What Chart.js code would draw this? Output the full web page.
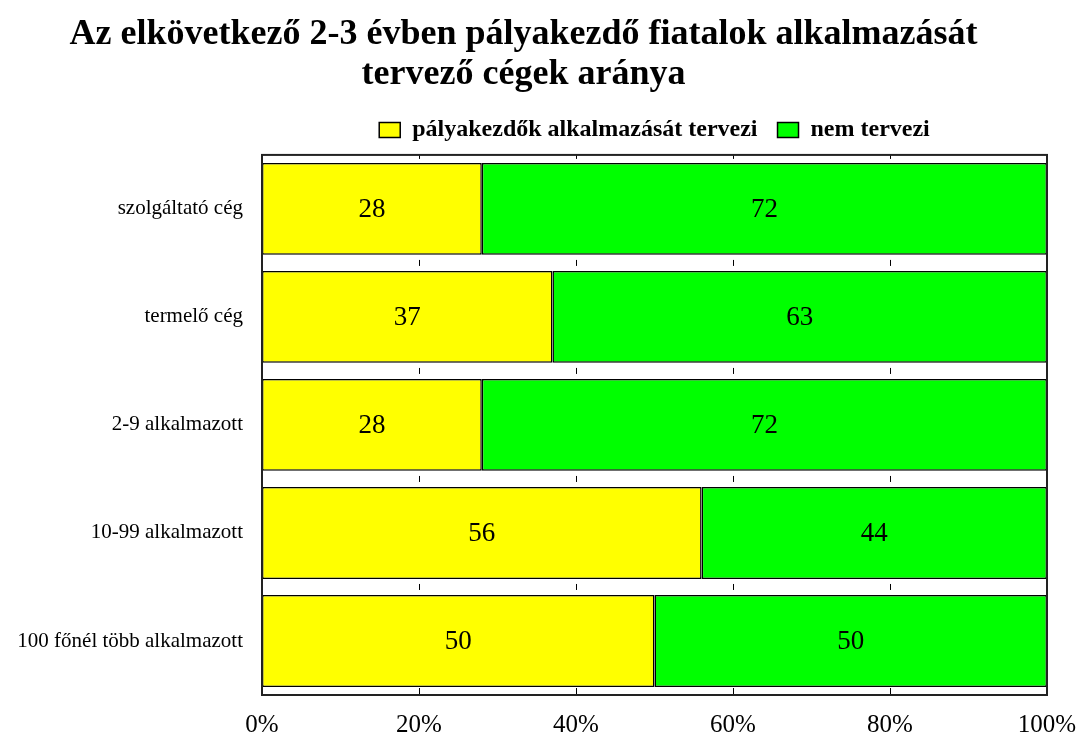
<!DOCTYPE html>
<html>
<head>
<meta charset="utf-8">
<script src="https://cdn.jsdelivr.net/npm/chart.js@4/dist/chart.umd.min.js"></script>
<style>
  html, body { margin: 0; padding: 0; background: #fff; }
  #wrap { width: 1084px; height: 738px; }
</style>
</head>
<body>
<div id="wrap"><canvas id="chart"></canvas></div>
<script>
const categories = [
  "szolgáltató cég",
  "termelő cég",
  "2-9 alkalmazott",
  "10-99 alkalmazott",
  "100 főnél több alkalmazott",
];
const plansHiring = [28, 37, 28, 56, 50];
const notPlanning = [72, 63, 72, 44, 50];
const seriesNames = ["pályakezdők alkalmazását tervezi", "nem tervezi"];
const xTicks = [0, 20, 40, 60, 80, 100];

const serif = "'Liberation Serif', 'Times New Roman', serif";

// value labels inside each bar segment
const valueLabels = {
  id: "valueLabels",
  afterDatasetsDraw(chart) {
    const ctx = chart.ctx;
    ctx.save();
    ctx.font = "27px " + serif;
    ctx.fillStyle = "#000";
    ctx.textAlign = "center";
    ctx.textBaseline = "middle";
    chart.data.datasets.forEach((ds, i) => {
      chart.getDatasetMeta(i).data.forEach((bar, j) => {
        const cx = (bar.x + bar.base) / 2;
        ctx.fillText(ds.data[j], cx, bar.y + 1);
      });
    });
    ctx.restore();
  },
};

// short tick marks in the gaps between bars + box around the plot
const plotFrame = {
  id: "plotFrame",
  afterDatasetsDraw(chart) {
    const a = chart.chartArea;
    const ctx = chart.ctx;
    const x = chart.scales.x;
    const step = (a.bottom - a.top) / categories.length;
    ctx.save();
    ctx.strokeStyle = "#000";
    ctx.lineWidth = 1;
    xTicks.slice(1, -1).forEach((v) => {
      const px = Math.round(x.getPixelForValue(v)) + 0.5;
      for (let k = 0; k <= categories.length; k++) {
        const gy = a.top + k * step;
        let y0 = gy - 3, y1 = gy + 3;
        if (k === 0) { y0 = a.top; y1 = a.top + 4; }
        if (k === categories.length) { y0 = a.bottom - 7; y1 = a.bottom; }
        ctx.beginPath();
        ctx.moveTo(px, y0);
        ctx.lineTo(px, y1);
        ctx.stroke();
      }
    });
    ctx.strokeStyle = "#222";
    ctx.lineWidth = 2;
    ctx.strokeRect(a.left, a.top, a.right - a.left, a.bottom - a.top);
    ctx.restore();
  },
};

// legend: fixed height, centered over the plot area
const legendOverPlot = {
  id: "legendOverPlot",
  beforeLayout(chart) {
    const lg = chart.legend;
    if (lg && !lg._fixed) {
      const fit = lg.fit.bind(lg);
      lg.fit = function () {
        fit();
        this.height = 57;
      };
      lg._fixed = true;
    }
  },
  afterLayout(chart) {
    const lg = chart.legend;
    lg.left = chart.chartArea.left;
    lg.right = chart.chartArea.right;
  },
};

new Chart(document.getElementById("chart"), {
  type: "bar",
  data: {
    labels: categories,
    datasets: [
      {
        label: seriesNames[0],
        data: plansHiring,
        backgroundColor: "#ffff00",
        borderColor: "#000",
        borderWidth: 1.5,
        borderSkipped: false,
        barPercentage: 0.85,
        categoryPercentage: 1,
      },
      {
        label: seriesNames[1],
        data: notPlanning,
        backgroundColor: "#00ff00",
        borderColor: "#000",
        borderWidth: 1.5,
        borderSkipped: false,
        barPercentage: 0.85,
        categoryPercentage: 1,
      },
    ],
  },
  options: {
    indexAxis: "y",
    responsive: true,
    maintainAspectRatio: false,
    animation: false,
    layout: { padding: { left: 0, right: 37, top: 0, bottom: 0 } },
    plugins: {
      title: {
        display: true,
        text: ["Az elkövetkező 2-3 évben pályakezdő fiatalok alkalmazását", "tervező cégek aránya"],
        color: "#000",
        font: { family: serif, size: 36, weight: "bold", lineHeight: 1.11 },
        padding: { top: 15, bottom: 3 },
      },
      legend: {
        display: true,
        position: "top",
        labels: {
          color: "#000",
          font: { family: serif, size: 24, weight: "bold" },
          boxWidth: 21,
          boxHeight: 15,
          padding: 20,
        },
      },
      tooltip: { enabled: false },
    },
    scales: {
      x: {
        stacked: true,
        min: 0,
        max: 100,
        afterBuildTicks(scale) {
          scale.ticks = xTicks.map((v) => ({ value: v }));
        },
        afterFit(scale) {
          scale.paddingLeft = 0;
          scale.paddingRight = 0;
          scale.height = 43;
        },
        ticks: {
          color: "#000",
          font: { family: serif, size: 25, lineHeight: 1 },
          padding: 18,
          maxRotation: 0,
          callback: (v) => v + "%",
        },
        grid: { display: false, drawTicks: false },
        border: { display: false },
      },
      y: {
        stacked: true,
        afterFit(scale) {
          scale.width = 262;
        },
        ticks: {
          color: "#000",
          font: { family: serif, size: 21 },
          padding: 19,
        },
        grid: { display: false, drawTicks: false },
        border: { display: false },
      },
    },
  },
  plugins: [valueLabels, plotFrame, legendOverPlot],
});
</script>
</body>
</html>
